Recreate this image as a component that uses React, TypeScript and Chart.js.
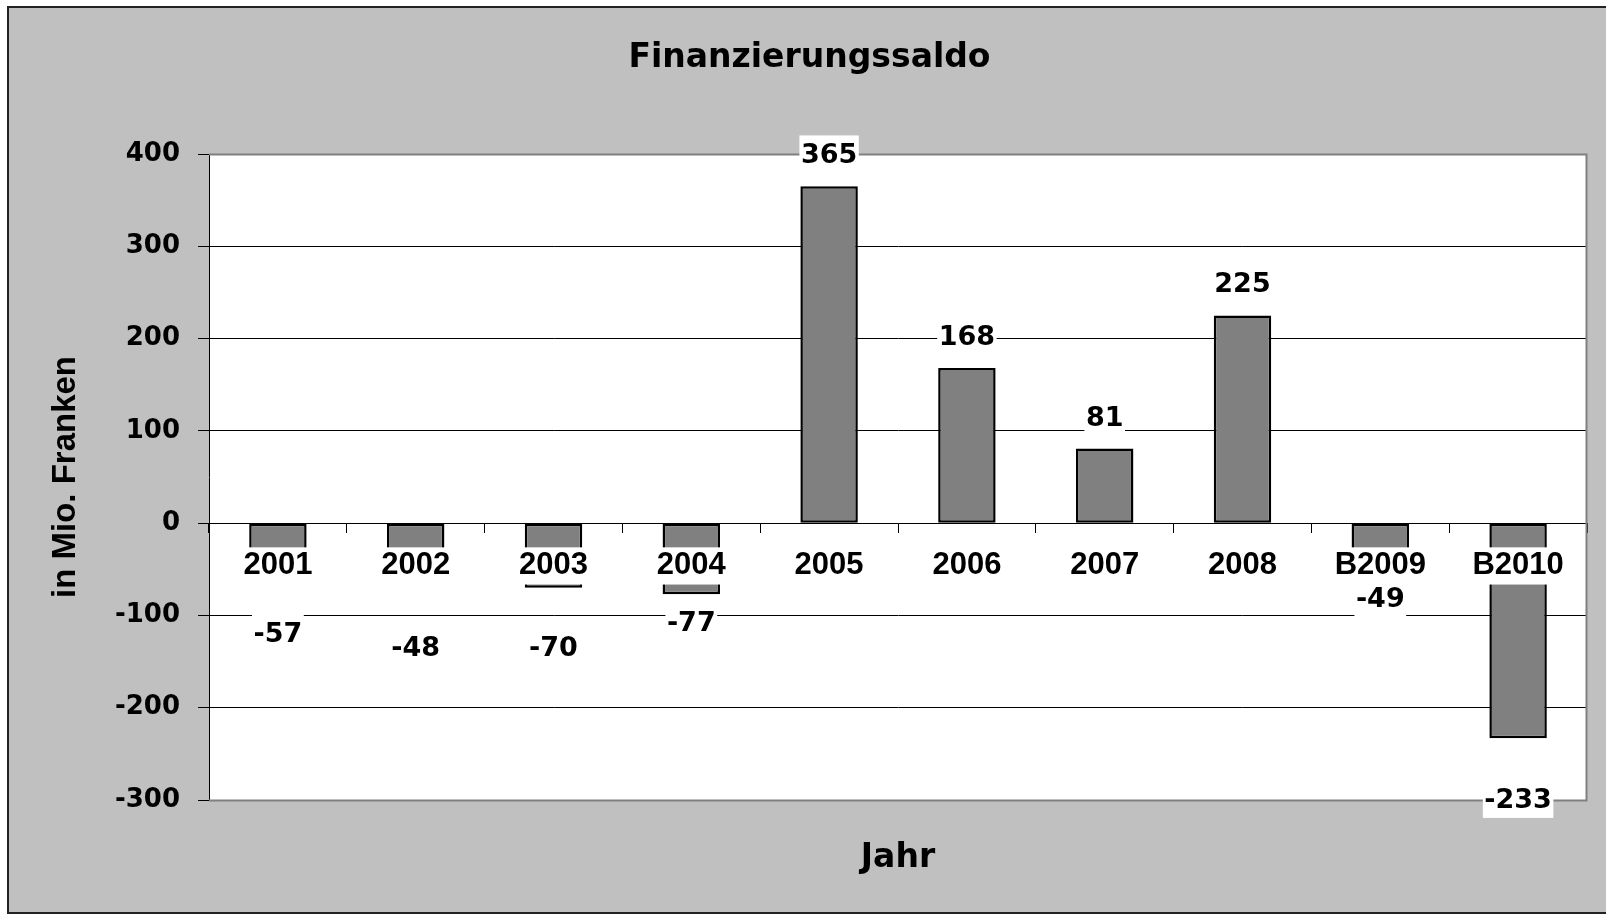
import React, { useEffect, useRef } from 'react';
import { Chart, registerables } from 'chart.js';

Chart.register(...registerables);

// ---- data ----
const categories = ['2001', '2002', '2003', '2004', '2005', '2006', '2007', '2008', 'B2009', 'B2010'];
const saldo = [-57, -48, -70, -77, 365, 168, 81, 225, -49, -233];
const yMin = -300;
const yMax = 400;
const yStep = 100;
const chartTitle = 'Finanzierungssaldo';
const yTitle = 'in Mio. Franken';
const xTitle = 'Jahr';

const DEJAVU = '"DejaVu Sans", sans-serif';
const LIB = '"Liberation Sans", Arial, sans-serif';

const backgroundPlugin = {
  id: 'bgFrame',
  beforeDraw(chart: any) {
    const { ctx, width, height, chartArea } = chart;
    ctx.save();
    ctx.fillStyle = '#ffffff';
    ctx.fillRect(0, 0, width, height);
    ctx.fillStyle = '#c0c0c0';
    ctx.fillRect(7, 6, width - 7, height - 7);
    ctx.fillStyle = '#222222';
    ctx.fillRect(7, 6, 2, height - 7);
    ctx.fillRect(7, 6, width - 7, 2);
    ctx.fillRect(7, height - 2, width - 7, 2);
    ctx.fillStyle = '#ffffff';
    ctx.fillRect(chartArea.left, chartArea.top, chartArea.right - chartArea.left, chartArea.bottom - chartArea.top);
    ctx.restore();
  },
  beforeDatasetsDraw(chart: any) {
    const { ctx, chartArea } = chart;
    ctx.save();
    ctx.strokeStyle = '#808080';
    ctx.lineWidth = 2;
    ctx.beginPath();
    ctx.moveTo(chartArea.left, chartArea.top + 0.5);
    ctx.lineTo(chartArea.right - 0.5, chartArea.top + 0.5);
    ctx.lineTo(chartArea.right - 0.5, chartArea.bottom + 0.5);
    ctx.lineTo(chartArea.left, chartArea.bottom + 0.5);
    ctx.stroke();
    ctx.restore();
  },
};

const valueLabelPlugin = {
  id: 'valueLabels',
  afterDatasetsDraw(chart: any, _args: any, opts: any) {
    const { ctx } = chart;
    const meta = chart.getDatasetMeta(0);
    const values = chart.data.datasets[0].data as number[];
    ctx.save();
    ctx.font = opts.font;
    ctx.textAlign = 'center';
    ctx.textBaseline = 'alphabetic';
    meta.data.forEach((bar: any, i: number) => {
      const text = String(values[i]);
      const w = ctx.measureText(text).width;
      const centre = bar.y + opts.shift[i];
      const baseline = centre + opts.capHeight / 2;
      const capTop = baseline - opts.capHeight;
      ctx.fillStyle = '#ffffff';
      ctx.fillRect(bar.x - w / 2 - 1.5, capTop - 8, w + 3, opts.capHeight + 18);
      ctx.fillStyle = '#000000';
      ctx.fillText(text, bar.x, baseline);
    });
    ctx.restore();
  },
};

export default function App() {
  const ref = useRef<HTMLCanvasElement>(null);

  useEffect(() => {
    if (!ref.current) return;
    const chart = new Chart(ref.current, {
      type: 'bar',
      data: {
        labels: categories,
        datasets: [
          {
            data: saldo,
            backgroundColor: '#808080',
            borderColor: '#000000',
            borderWidth: 2.5,
            borderSkipped: false,
            barPercentage: 0.417,
            categoryPercentage: 1,
          },
        ],
      },
      options: {
        responsive: false,
        animation: false,
        devicePixelRatio: 1,
        layout: { padding: { left: 32, right: 19, top: 0, bottom: 0 } },
        plugins: {
          legend: { display: false },
          tooltip: { enabled: false },
          title: {
            display: true,
            text: chartTitle,
            color: '#000',
            font: { family: DEJAVU, size: 33, weight: 'bold' },
            padding: { top: 38.5, bottom: 75.9 },
          },
          subtitle: {
            display: true,
            text: xTitle,
            position: 'bottom',
            fullSize: false,
            color: '#000',
            font: { family: DEJAVU, size: 33, weight: 'bold' },
            padding: { top: 39, bottom: 35.4 },
          },
          valueLabels: {
            font: `bold 27px ${DEJAVU}`,
            capHeight: 19.7,
            shift: [56.6, 78.8, 58.4, 27.4, -33, -33, -32, -33, 29, 59.9],
          },
        } as any,
        scales: {
          x: {
            type: 'category',
            position: { y: 0 } as any,
            offset: true,
            grid: {
              display: true,
              drawOnChartArea: false,
              drawTicks: true,
              tickLength: 9,
              color: '#000',
              tickColor: '#000',
              lineWidth: 1,
              offset: true,
            },
            border: { display: true, color: '#000', width: 1 },
            ticks: {
              color: '#000',
              font: { family: LIB, size: 31, weight: 'bold' },
              padding: 15.2,
              maxRotation: 0,
              minRotation: 0,
              autoSkip: false,
              showLabelBackdrop: true,
              backdropColor: '#ffffff',
              backdropPadding: { top: 0, bottom: 0, left: 2, right: 2 },
              z: 1,
            } as any,
          },
          y: {
            type: 'linear',
            min: yMin,
            max: yMax,
            ticks: {
              stepSize: yStep,
              color: '#000',
              font: { family: DEJAVU, size: 26, weight: 'bold' },
              padding: 18,
            },
            grid: {
              color: (c: any) =>
                c.tick && (c.tick.value === yMax || c.tick.value === yMin) ? 'rgba(0,0,0,0)' : '#000',
              tickColor: '#000',
              tickLength: 11,
              lineWidth: 1,
            },
            border: { display: true, color: '#000', width: 1 },
            title: {
              display: true,
              text: yTitle,
              color: '#000',
              font: { family: LIB, size: 33, weight: 'bold' },
              padding: { top: 14.5, bottom: 0 },
            },
            afterFit: (s: any) => {
              s.width = 177;
            },
          },
        },
      },
      plugins: [backgroundPlugin, valueLabelPlugin],
    });
    return () => chart.destroy();
  }, []);

  return (
    <div style={{ position: 'fixed', left: 0, top: 0, width: 1606, height: 914, background: '#fff' }}>
      <canvas ref={ref} width={1606} height={914} style={{ display: 'block', width: 1606, height: 914 }} />
    </div>
  );
}
